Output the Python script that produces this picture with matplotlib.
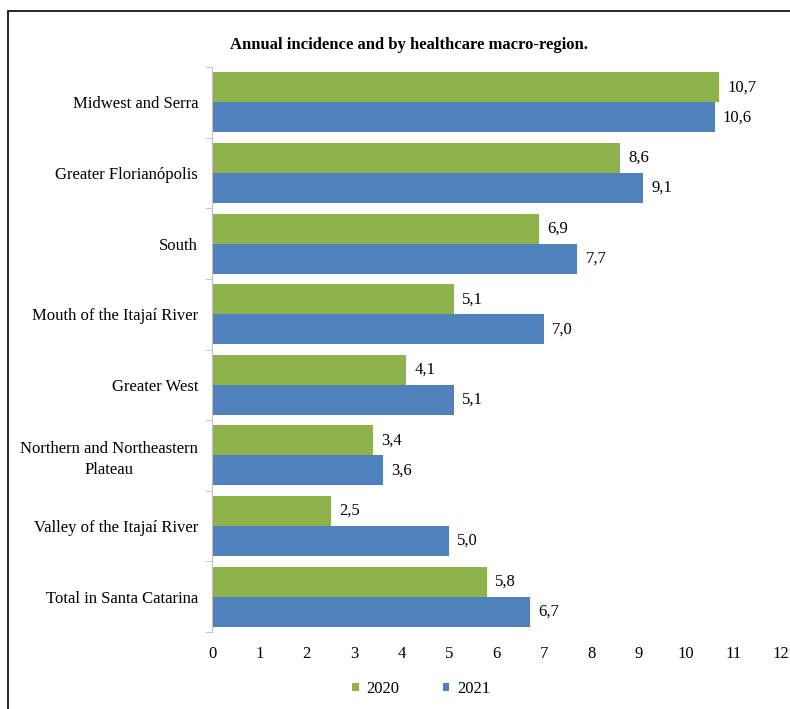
import matplotlib.pyplot as plt
import numpy as np
from matplotlib.patches import Rectangle

plt.rcParams['font.family'] = ['Liberation Serif', 'DejaVu Serif']

regions = ['Midwest and Serra', 'Greater Florianópolis', 'South',
           'Mouth of the Itajaí River', 'Greater West',
           'Northern and Northeastern\nPlateau', 'Valley of the Itajaí River',
           'Total in Santa Catarina']
inc_2020 = [10.7, 8.6, 6.9, 5.1, 4.1, 3.4, 2.5, 5.8]
inc_2021 = [10.6, 9.1, 7.7, 7.0, 5.1, 3.6, 5.0, 6.7]
years = ['2020', '2021']
colors = ['#8FB34C', '#4F81BD']

fig = plt.figure(figsize=(7.9, 7.09), dpi=100)
ax = fig.add_axes([0.2684, 0.1086, 0.7202, 0.7969])

y = np.arange(len(regions))
h = 0.425
b1 = ax.barh(y - h / 2, inc_2020, height=h, color=colors[0], label=years[0])
b2 = ax.barh(y + h / 2, inc_2021, height=h, color=colors[1], label=years[1])

for bars in (b1, b2):
    for r in bars:
        v = r.get_width()
        ax.annotate(f'{v:.1f}'.replace('.', ','),
                    (v, r.get_y() + r.get_height() / 2),
                    xytext=(6, 0), textcoords='offset points',
                    va='center', ha='left', fontsize=12)

ax.set_xlim(0, 12)
ax.set_ylim(len(regions) - 0.5, -0.5)
ax.set_xticks(range(13))
ax.set_yticks(y)
ax.set_yticklabels(regions, fontsize=12, ha='right', multialignment='center',
                   linespacing=1.4)
ax.tick_params(axis='y', length=0, pad=10)
ax.set_yticks(np.arange(-0.5, len(regions)), minor=True)
ax.tick_params(axis='y', which='minor', length=5, color='#BFBFBF')
ax.tick_params(axis='x', length=0, labelsize=12, pad=10)

for s in ['top', 'right', 'bottom']:
    ax.spines[s].set_visible(False)
ax.spines['left'].set_color('#BFBFBF')

fig.text(0.518, 0.937, 'Annual incidence and by healthcare macro-region.',
         ha='center', va='center', fontsize=12, fontweight='bold')

fig.legend(loc='center', bbox_to_anchor=(0.533, 0.028), ncol=2, frameon=False,
           fontsize=12, handlelength=0.4, handleheight=0.4,
           columnspacing=2.6, handletextpad=0.45)

fig.patches.append(Rectangle((0.010, -0.01), 1.5, 0.995, transform=fig.transFigure,
                             fill=False, edgecolor='black', linewidth=1.2))

fig.savefig('out.png', dpi=100)
